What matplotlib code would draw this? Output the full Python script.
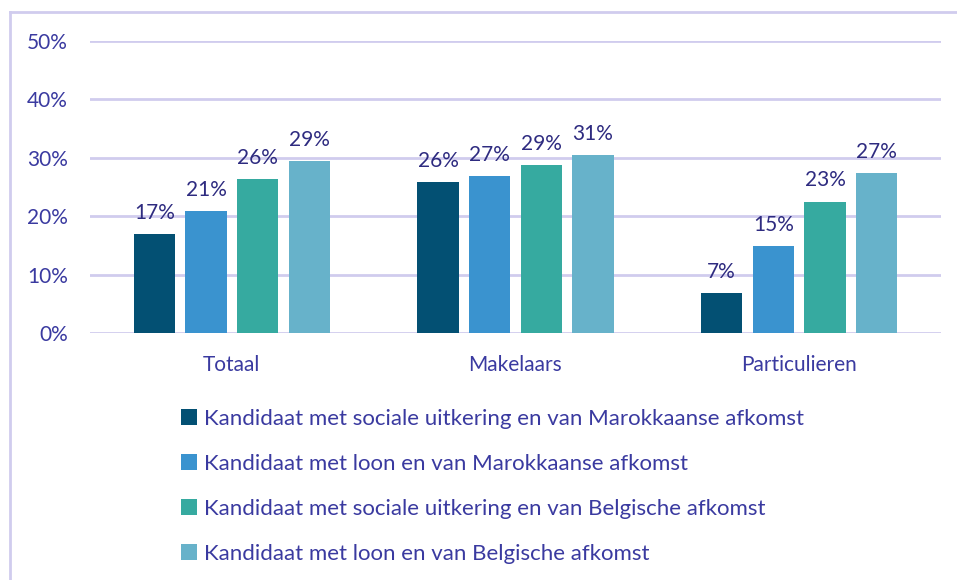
import matplotlib.pyplot as plt
from matplotlib.patches import Patch
from matplotlib.lines import Line2D
import numpy as np

plt.rcParams['font.family'] = ['Lato', 'DejaVu Sans']

categories = ["Totaal", "Makelaars", "Particulieren"]
series = [
    "Kandidaat met sociale uitkering en van Marokkaanse afkomst",
    "Kandidaat met loon en van Marokkaanse afkomst",
    "Kandidaat met sociale uitkering en van Belgische afkomst",
    "Kandidaat met loon en van Belgische afkomst",
]
values = [
    [17.0, 25.9, 6.9],
    [20.9, 26.9, 14.9],
    [26.4, 28.7, 22.5],
    [29.4, 30.5, 27.4],
]
labels = [
    ["17%", "26%", "7%"],
    ["21%", "27%", "15%"],
    ["26%", "29%", "23%"],
    ["29%", "31%", "27%"],
]
colors = ["#035073", "#3A93CF", "#36AAA0", "#67B2CA"]

text_col = "#3A3AA0"
label_col = "#2E2B80"
grid_col = "#D0CCEE"

fig = plt.figure(figsize=(9.57, 5.8), dpi=100)
ax = fig.add_axes([90/957, (580-333)/580, 851/957, 292/580])

x = np.arange(len(categories))
step = 0.182
width = 0.145
for i, (vals, lab, c) in enumerate(zip(values, labels, colors)):
    pos = x + (i - 1.5) * step
    bars = ax.bar(pos, vals, width, color=c, zorder=3)
    ax.bar_label(bars, labels=lab, padding=8, fontsize=15, color=label_col)

ax.set_xlim(-0.5, 2.5)
ax.set_ylim(0, 50)
ax.set_yticks(range(0, 51, 10))
ax.set_yticklabels([f"{v}%" for v in range(0, 51, 10)])
ax.set_xticks(x)
ax.set_xticklabels(categories)
ax.grid(axis='y', color=grid_col, linewidth=2, zorder=0)
for s in ax.spines.values():
    s.set_visible(False)
ax.tick_params(axis='both', length=0, labelsize=15, labelcolor=text_col)
ax.tick_params(axis='y', pad=16)
ax.tick_params(axis='x', pad=16)

handles = [Patch(facecolor=c) for c in colors]
fig.legend(handles, series, loc='upper left', bbox_to_anchor=(181/957, 1 - 409/580),
           frameon=False, fontsize=16, labelcolor=text_col,
           handlelength=0.7, handleheight=0.7, handletextpad=0.35,
           labelspacing=1.12, borderpad=0, borderaxespad=0)

# outer frame of the chart area
fig.add_artist(Line2D([9.5/957, 9.5/957], [0, 1 - 12/580], color=grid_col, lw=2))
fig.add_artist(Line2D([9.5/957, 1], [1 - 12/580, 1 - 12/580], color=grid_col, lw=2))

fig.savefig("out.png", dpi=100)
